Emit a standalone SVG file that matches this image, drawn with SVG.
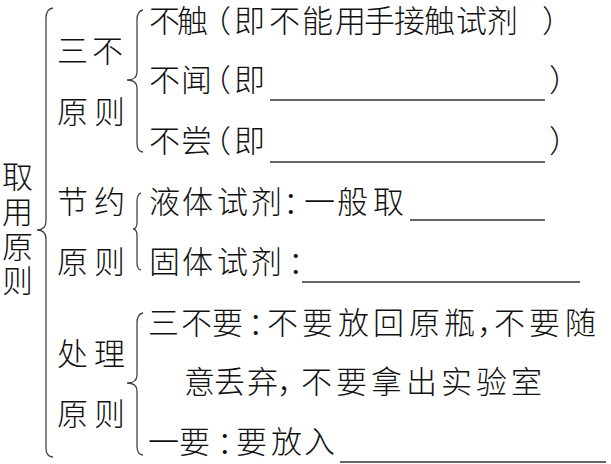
<svg xmlns="http://www.w3.org/2000/svg" width="611" height="464" viewBox="0 0 611 464">
<style>
text{font-family:"Noto Sans CJK SC","Noto Sans CJK JP",sans-serif;font-size:31px;font-weight:300;fill:#111}
.br{fill:none;stroke:#444;stroke-width:1.3}
.ul{stroke:#333;stroke-width:1.3}
</style>
<rect width="611" height="464" fill="#fff"/>
<g id="connectors">
<path class="br" d="M53,8 Q46,9 46,18 L46,221 Q46,230 37,230 Q46,230 46,239 L46,448 Q46,457 53,457"/>
<path class="br" d="M143,10 Q137,11 137,20 L137,72 Q137,80 127,80 Q137,80 137,88 L137,143 Q137,152 143,152"/>
<path class="br" d="M141,193 Q137,194 137,202 L137,222 Q137,229 133,229 Q137,229 137,236 L137,262 Q137,270 141,270"/>
<path class="br" d="M143,313 Q137,314 137,323 L137,375 Q137,383 127,383 Q137,383 137,391 L137,446 Q137,455 143,455"/>
</g>
<g id="root">
<text x="2 2 2 2" y="188 223 258 292">取用原则</text>
</g>
<g id="sanbu">
<text x="57 92" y="62">三不</text>
<text x="57 94" y="123">原则</text>
</g>
<g id="jieyue">
<text x="57 94" y="213">节约</text>
<text x="57 94" y="273">原则</text>
</g>
<g id="chuli">
<text x="57 94" y="365">处理</text>
<text x="57 94" y="425">原则</text>
</g>
<g id="buchu">
<text x="149 177 200 234 269 302 335 364 394 424 456 487 542" y="32">不触（即不能用手接触试剂）</text>
</g>
<g id="buwen">
<text x="149 181 200 234 549" y="91">不闻（即）</text>
<line class="ul" x1="270" y1="100" x2="545" y2="100"/>
</g>
<g id="buchang">
<text x="149 181 200 234 549" y="152">不尝（即）</text>
<line class="ul" x1="270" y1="162" x2="545" y2="162"/>
</g>
<g id="yeti">
<text x="149 182 217 251 283 304 337 373" y="213">液体试剂：一般取</text>
<line class="ul" x1="410" y1="220" x2="545" y2="220"/>
</g>
<g id="guti">
<text x="149 182 217 251 288" y="273">固体试剂：</text>
<line class="ul" x1="302" y1="282" x2="580" y2="282"/>
</g>
<g id="sanbuyao">
<text x="148 181 212 248 267 302 338 373 409 444 477 494 529 565" y="334">三不要：不要放回原瓶，不要随</text>
<text x="184 214 247 277 301 336 371 406 441 476 511" y="393">意丢弃，不要拿出实验室</text>
</g>
<g id="yiyao">
<text x="148 179 217 236 271 304" y="453">一要：要放入</text>
<line class="ul" x1="340" y1="462" x2="606" y2="462"/>
</g>
</svg>
